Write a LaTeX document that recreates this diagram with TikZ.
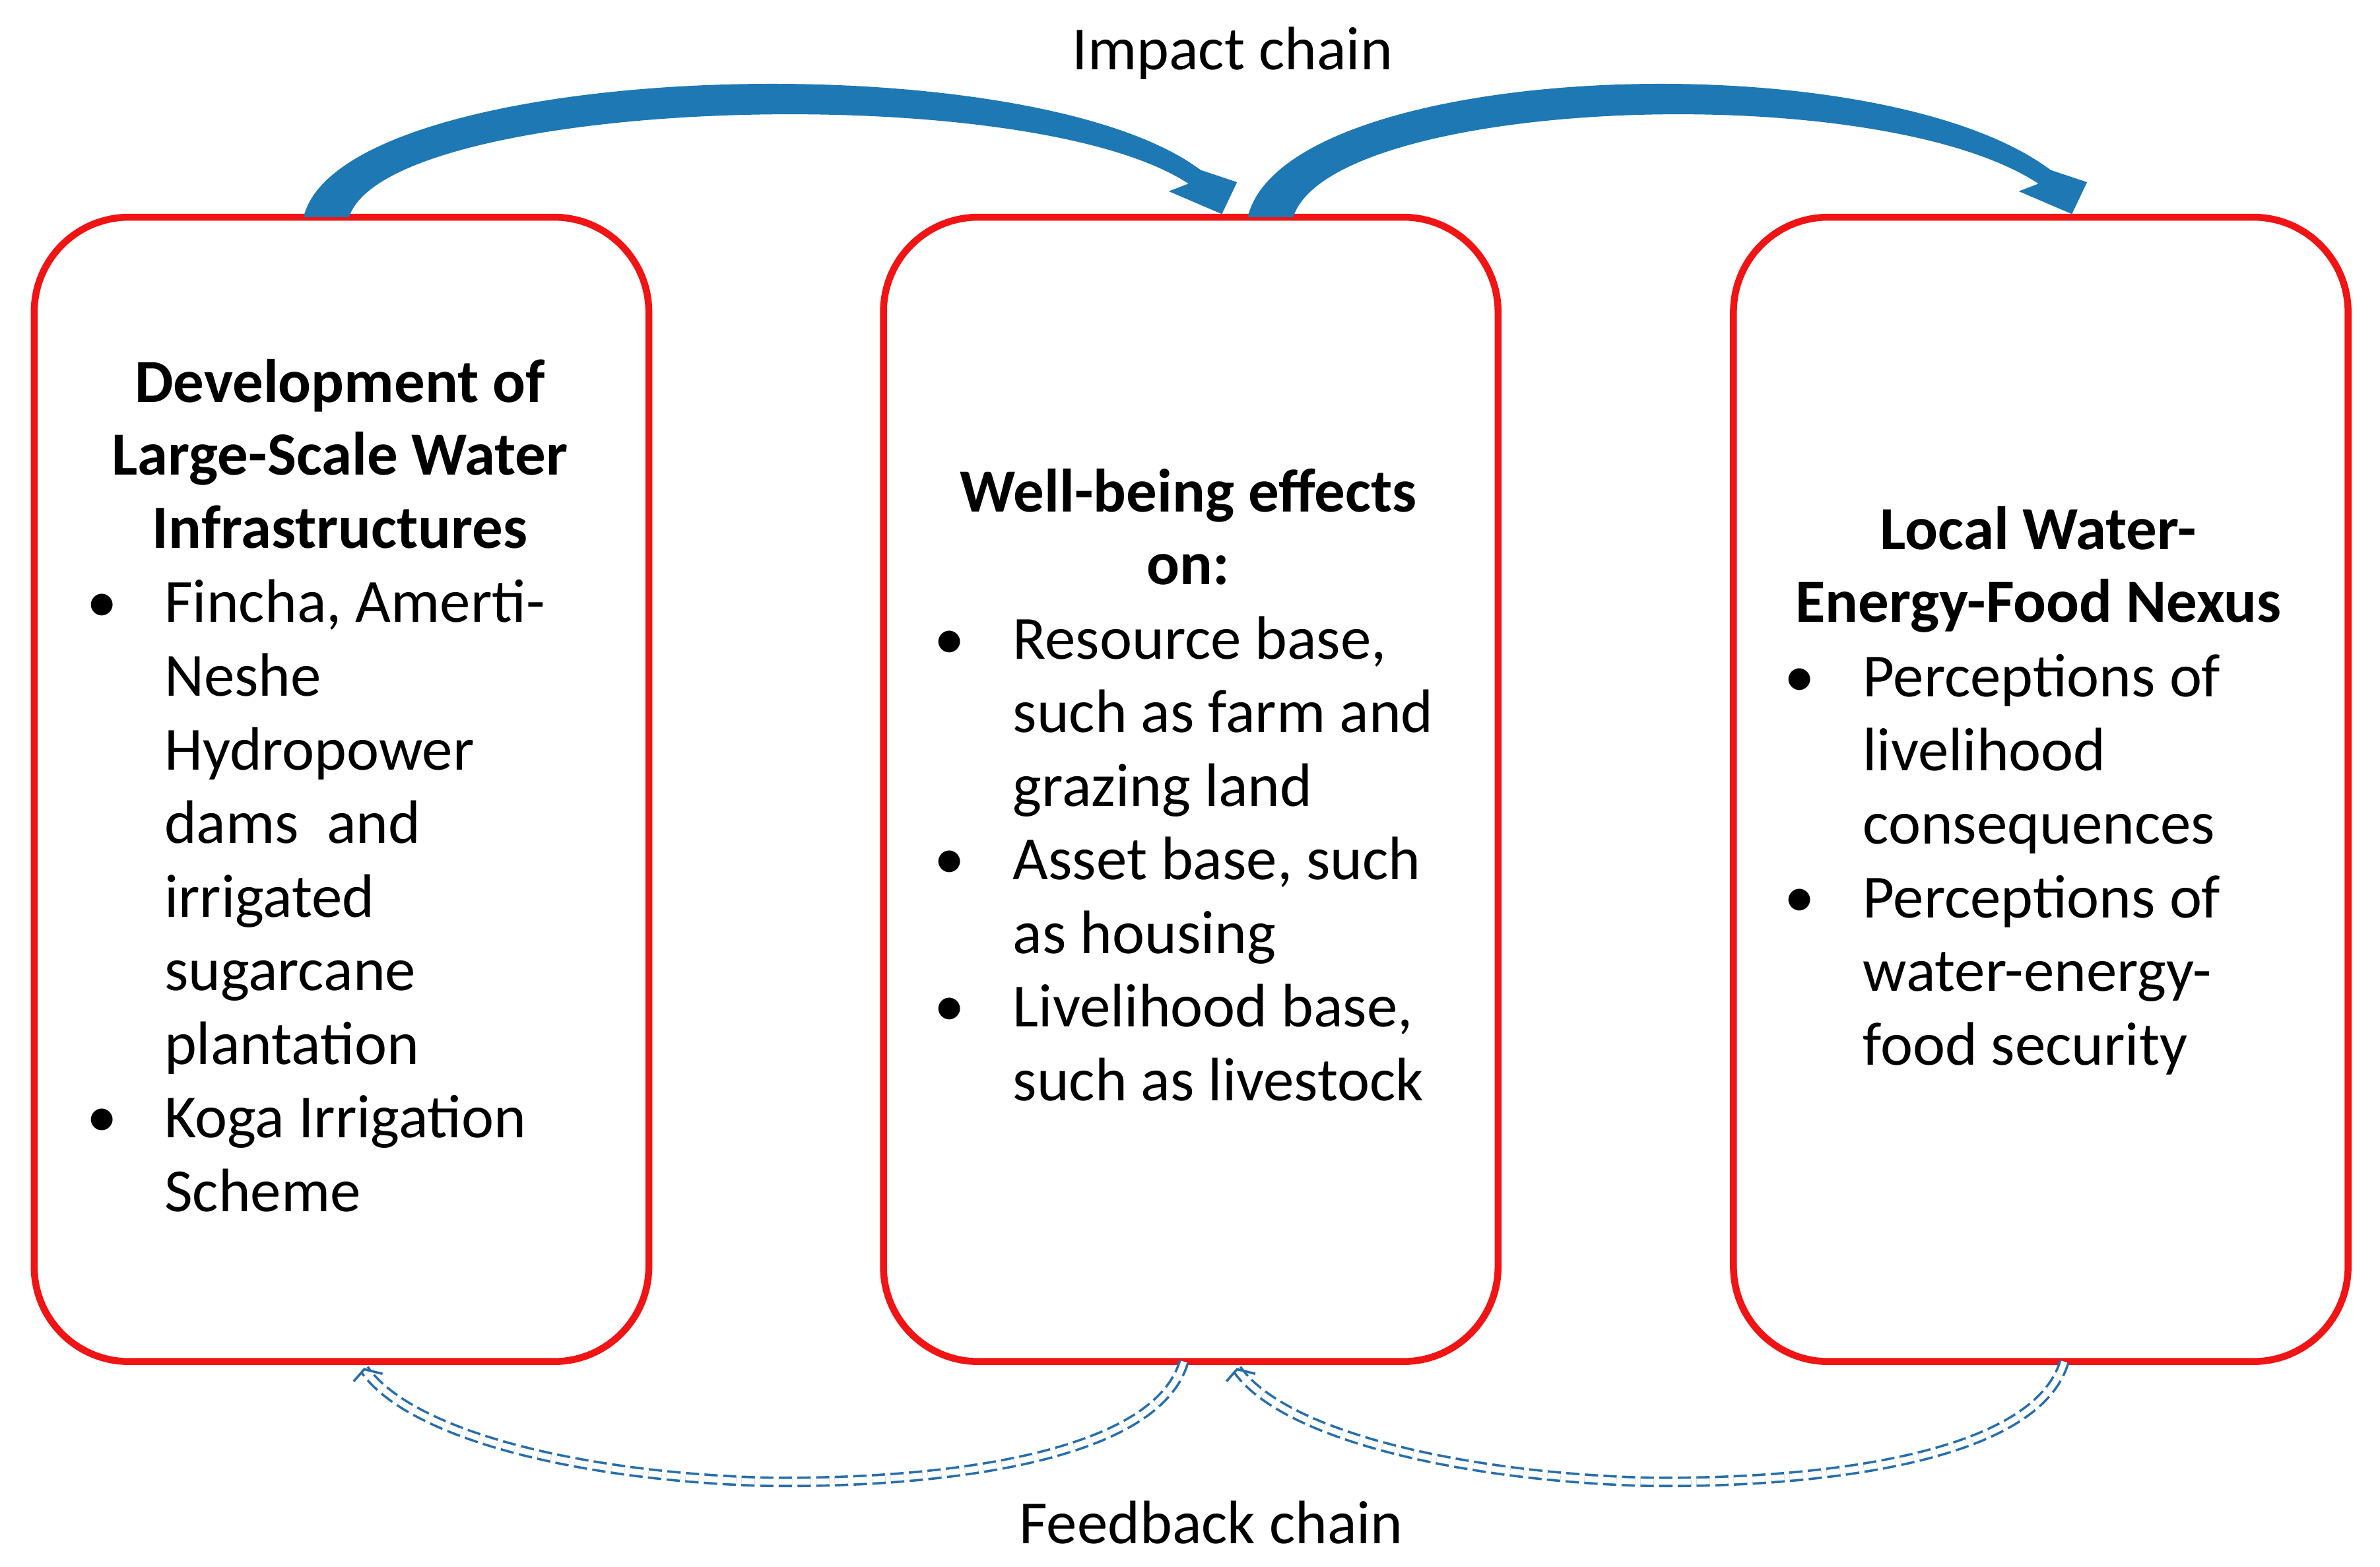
\documentclass[tikz,border=0pt]{standalone}
\usepackage{fontspec}
\setmainfont{Carlito}
\usetikzlibrary{arrows.meta}
\definecolor{boxred}{RGB}{240,20,20}
\definecolor{arrblue}{RGB}{30,120,180}
\definecolor{fbblue}{RGB}{40,110,170}
\begin{document}
\begin{tikzpicture}[x=0.02cm,y=-0.02cm,
  box/.style={draw=boxred,line width=2.6pt,rounded corners=1.25cm,minimum width=8.1cm,minimum height=15.08cm,inner sep=0},
  txt/.style={anchor=base west,inner sep=0,font=\fontsize{23}{27}\selectfont},
  ttl/.style={anchor=base,inner sep=0,font=\fontsize{23}{27}\selectfont\bfseries},
  fb/.style={draw=fbblue,line width=0.9pt,double=white,double distance=2.2pt,dash pattern=on 5pt off 2pt}]
\useasboundingbox (0,0) rectangle (1568,1032);
\node[box] (A) at (225,520) {};
\node[box] (B) at (784.5,520) {};
\node[box] (C) at (1344.5,520) {};
% titles
\foreach \t [count=\i] in {Development of,Large-Scale Water,Infrastructures}
  \node[ttl] (AT\i) at (224,{265+48*(\i-1)}) {\t};
\foreach \t [count=\i] in {Well-being effects,on:}
  \node[ttl] (BT\i) at (783,{337+48*(\i-1)}) {\t};
\foreach \t [count=\i] in {Local Water-,Energy-Food Nexus}
  \node[ttl] (CT\i) at (1343,{362+48*(\i-1)}) {\t};
% texts
\foreach \t [count=\i] in {{Fincha, Amerti-},Neshe,Hydropower,dams\ \ and,irrigated,sugarcane,plantation,Koga Irrigation,Scheme}
  \node[txt] (AL\i) at (108,{410+48.5*(\i-1)}) {\t};
\foreach \t [count=\i] in {{Resource base,},such as farm and,grazing land,{Asset base, such},as housing,{Livelihood base,},such as livestock}
  \node[txt] (BL\i) at (667,{434+48.5*(\i-1)}) {\t};
\foreach \t [count=\i] in {Perceptions of,livelihood,consequences,Perceptions of,water-energy-,food security}
  \node[txt] (CL\i) at (1227,{459+48.5*(\i-1)}) {\t};
% bullets
\foreach \y [count=\i] in {410,749}
  \node[txt] (AB\i) at (57,\y) {\textbullet};
\foreach \y [count=\i] in {434,579,676}
  \node[txt] (BB\i) at (615,\y) {\textbullet};
\foreach \y [count=\i] in {459,604}
  \node[txt] (CB\i) at (1175,\y) {\textbullet};
% labels
\node[inner sep=0,font=\fontsize{23}{27}\selectfont] (IC) at (812,35) {Impact chain};
\node[inner sep=0,font=\fontsize{23}{27}\selectfont] (FC) at (798,1003) {Feedback chain};
% impact arrows
\foreach \s/\e in {200/805,822/1365}{
  \fill[arrblue] (\s,143) .. controls (\s+25,40) and (\e-130,25) .. (\e-14,112)
    -- (\e+10,120) -- (\e,141) -- (\e-35,126) -- (\e-22,121)
    .. controls (\e-130,50) and (\s+55,65) .. (\s+30,143) -- cycle;
}
% feedback arrows
\draw[fb] (780,897) .. controls (760,965) and (600,978) .. (500,976) .. controls (380,972) and (270,945) .. (240,902);
\draw[fb] (1360,897) .. controls (1340,965) and (1180,978) .. (1080,976) .. controls (960,972) and (845,945) .. (815,902);
\draw[fbblue,line width=0.9pt] (233,910) -- (240,902) -- (252,905);
\draw[fbblue,line width=0.9pt] (808,910) -- (815,902) -- (827,905);
\end{tikzpicture}
\end{document}
